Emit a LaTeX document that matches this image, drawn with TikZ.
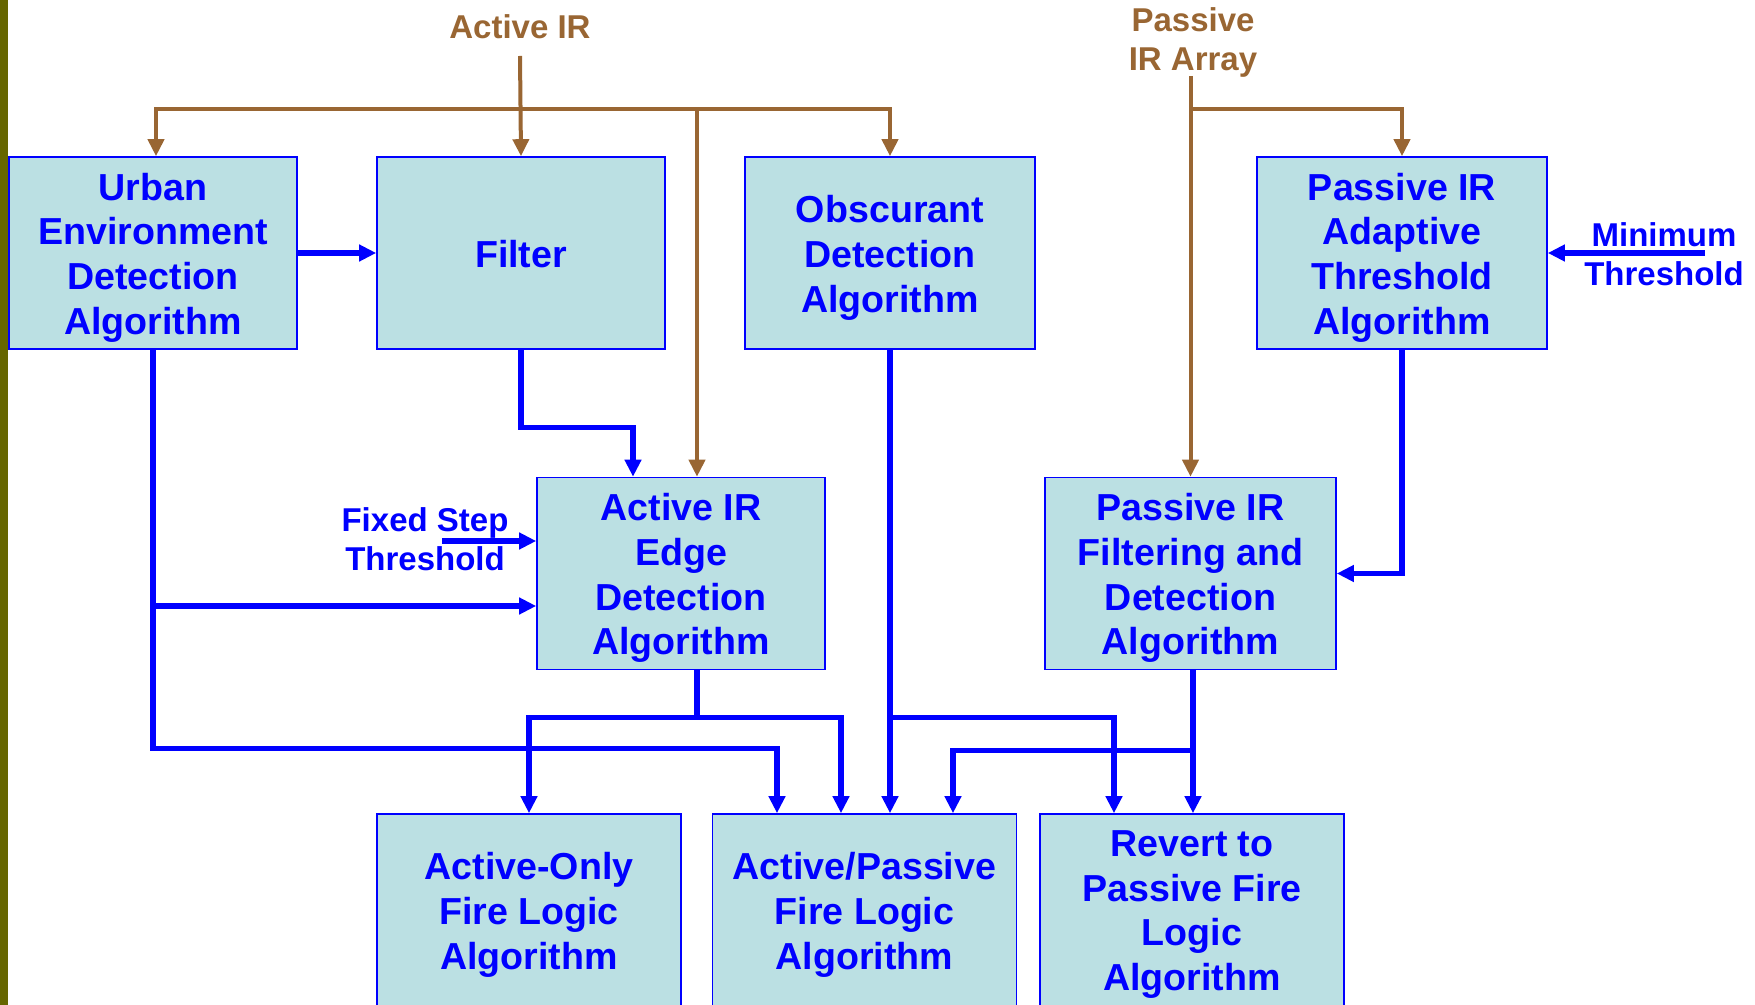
\documentclass[tikz,border=0pt]{standalone}
\usepackage{fontspec}
\setmainfont{Liberation Sans}
\usetikzlibrary{arrows.meta,calc}
\definecolor{boxfill}{HTML}{BBE0E3}
\definecolor{irbrown}{HTML}{996633}
\definecolor{sigblue}{HTML}{0000FF}
\definecolor{barolive}{HTML}{666600}
\tikzset{
  algtext/.style={text=sigblue, align=center, inner sep=0pt,
    font=\fontsize{18.8}{22.4}\selectfont\bfseries},
  algbox/.style={draw=sigblue, line width=0.8pt, fill=boxfill,
    minimum width=144pt, minimum height=96pt,
    label={[algtext, yshift=-2.3pt]center:{#1}}},
  inlabel/.style={align=center, inner sep=1pt,
    font=\fontsize{16.5}{19.5}\selectfont\bfseries},
  sig/.style={draw=sigblue, line width=2.6pt},
  ir/.style={draw=irbrown, line width=2pt},
}
\begin{document}
\begin{tikzpicture}[x=0.5pt, y=-0.5pt, >={Triangle[length=8.5pt,width=8pt]}]
\useasboundingbox (0,0) rectangle (1755,1005);
\fill[barolive] (0,0) rectangle (8,1005);

% algorithm blocks
\node[algbox={Urban\\Environment\\Detection\\Algorithm}] (urban) at (153,253) {};
\node[algbox={\raisebox{3.4pt}{Filter}}] (filter) at (521,253) {};
\node[algbox={Obscurant\\Detection\\Algorithm}, minimum width=145pt] (obscur) at (890,253) {};
\node[algbox={Passive IR\\Adaptive\\Threshold\\Algorithm}, minimum width=145pt] (padapt) at (1402,253) {};
\node[algbox={Active IR\\Edge\\Detection\\Algorithm}] (edge) at (681,573.5) {};
\node[algbox={Passive IR\\Filtering and\\Detection\\Algorithm}, minimum width=145.5pt] (pfilt) at (1190.5,573.5) {};
\node[algbox={Active-Only\\Fire Logic\\Algorithm}, minimum width=152pt] (aonly) at (529,910) {};
\node[algbox={Active/Passive\\Fire Logic\\Algorithm}, minimum width=152pt] (apass) at (864.5,910) {};
\node[algbox={Revert to\\Passive Fire\\Logic\\Algorithm}, minimum width=152pt] (revert) at (1192,910) {};

% inputs
\node[inlabel, text=irbrown] (activeir) at (520,27) {Active IR};
\node[inlabel, text=irbrown] (passiveir) at (1193,42) {Passive\\IR Array};
\node[inlabel, text=sigblue] (fixstep) at (425,539.5) {Fixed Step\\Threshold};
\node[inlabel, text=sigblue] (minthr) at (1664,254.5) {Minimum\\Threshold};

% ports
\coordinate (ein1) at ($(edge.north)+(-48,0)$);
\coordinate (ein2) at ($(edge.north)+(16,0)$);
\coordinate (ein3) at ($(edge.west)+(0,-32.5)$);
\coordinate (ein4) at ($(edge.west)+(0,32.5)$);
\coordinate (eout) at ($(edge.south)+(16,0)$);
\coordinate (pout) at ($(pfilt.south)+(2.5,0)$);
\coordinate (ap1) at ($(apass.north)+(-87.5,0)$);
\coordinate (ap2) at ($(apass.north)+(-23.5,0)$);
\coordinate (ap3) at ($(apass.north)+(25.5,0)$);
\coordinate (ap4) at ($(apass.north)+(88.5,0)$);
\coordinate (rv1) at ($(revert.north)+(-78,0)$);
\coordinate (rv2) at ($(revert.north)+(1,0)$);
\coordinate (airtop) at (520,56);
\coordinate (abus) at (520,109);
\coordinate (pirtop) at (1190.5,76);
\coordinate (pbus) at (1190.5,109);
\coordinate (fsin) at (442,541);
\coordinate (mtin) at (1705,253);

% sensor feeds
\draw[ir,->] (airtop) -- (filter.north);
\draw[ir,->] (abus) -| ($(urban.north)+(3,0)$);
\draw[ir,->] (abus) -| (obscur.north);
\draw[ir,->] (abus -| ein2) -- (ein2);
\draw[ir,->] (pirtop) -- (pfilt.north);
\draw[ir,->] (pbus) -| (padapt.north);

% signal flow
\draw[sig,->] (urban.east) -- (filter.west);
\draw[sig,->] (filter.south) |- ($(ein1)+(0,-49)$) -- (ein1);
\draw[sig,->] (fsin) -- (ein3);
\draw[sig,->] (urban.south) |- ($(ap1)+(0,-65)$) -- (ap1);
\draw[sig,->] (urban.south |- ein4) -- (ein4);
\draw[sig] (eout) -- ++(0,47) coordinate (ebus);
\draw[sig,->] (ebus) -| (aonly.north);
\draw[sig,->] (ebus) -| (ap2);
\draw[sig,->] (obscur.south) -- (ap3);
\draw[sig,->] (obscur.south |- ebus) -| (rv1);
\draw[sig,->] (padapt.south) |- (pfilt.east);
\draw[sig,->] (mtin) -- (padapt.east);
\draw[sig,->] (pout) -- (rv2);
\draw[sig,->] ($(pout)+(0,80)$) -| (ap4);
\end{tikzpicture}
\end{document}
